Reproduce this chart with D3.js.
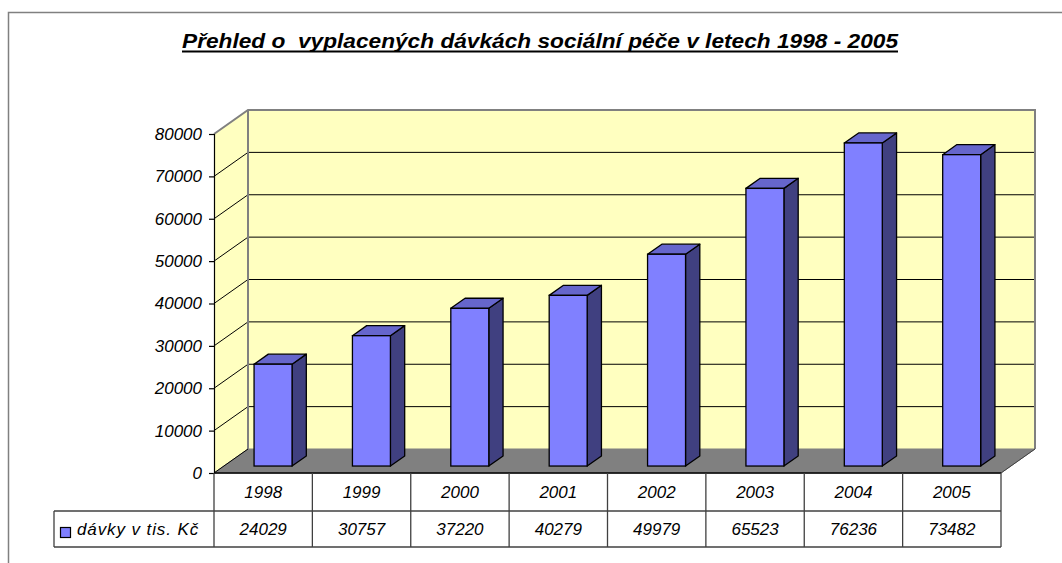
<!DOCTYPE html>
<html><head><meta charset="utf-8">
<script src="https://cdn.jsdelivr.net/npm/d3@7"></script>
<style>body{margin:0;background:#fff}svg{display:block}text{font-family:Arial,"Liberation Sans",sans-serif}</style>
</head><body><svg id="c" width="1062" height="563"></svg>
<script>
const years = ["1998","1999","2000","2001","2002","2003","2004","2005"];
const values = [24029,30757,37220,40279,49979,65523,76236,73482];
const yTicks = [0,10000,20000,30000,40000,50000,60000,70000,80000];
const seriesName = "dávky v tis. Kč";
const title = "Přehled o  vyplacených dávkách sociální péče v letech 1998 - 2005";

const svg = d3.select("#c");
const W = 1062, H = 563;
const x0 = 214, x1 = 1001, yBottom = 473, yTop = 134;
const DX = 34, DY = -24;           // depth of plot
const fFront = 0.29, fBack = 0.71; // bar depth position
const x = d3.scaleBand().domain(years).range([x0, x1]).padding(0);
const y = d3.scaleLinear().domain([0, 80000]).range([yBottom, yTop]);

// outer frame
svg.append("rect").attr("x",8.5).attr("y",12.5).attr("width",1060).attr("height",560)
  .attr("fill","none").attr("stroke","#808080").attr("stroke-width",1.5);

// title
svg.append("text").attr("x",540).attr("y",48).attr("text-anchor","middle")
  .attr("font-size",20).attr("font-weight","bold").attr("font-style","italic")
  .attr("textLength",716).attr("lengthAdjust","spacingAndGlyphs")
  .attr("xml:space","preserve").style("white-space","pre").text(title);
svg.append("line").attr("x1",182).attr("x2",898).attr("y1",51.5).attr("y2",51.5)
  .attr("stroke","#000").attr("stroke-width",2);

const wallFill = "#FFFFC0";
// side wall
svg.append("polygon")
  .attr("points",[[x0,y(80000)],[x0+DX,y(80000)+DY],[x0+DX,y(0)+DY],[x0,y(0)]].join(" "))
  .attr("fill",wallFill);
// back wall
svg.append("rect").attr("x",x0+DX).attr("y",y(80000)+DY)
  .attr("width",x1-x0).attr("height",y(0)-y(80000))
  .attr("fill",wallFill);

// gridlines
const gv = yTicks.filter(v => v>0 && v<80000);
svg.append("g").selectAll("line").data(gv).join("line")
  .attr("x1",x0+DX).attr("x2",x1+DX).attr("y1",d=>y(d)+DY).attr("y2",d=>y(d)+DY)
  .attr("stroke","#000").attr("stroke-width",1);
svg.append("g").selectAll("line").data(gv).join("line")
  .attr("x1",x0).attr("x2",x0+DX).attr("y1",d=>y(d)).attr("y2",d=>y(d)+DY)
  .attr("stroke","#000").attr("stroke-width",1);

// wall borders
svg.append("path")
  .attr("d",`M${x0},${y(80000)}L${x0+DX},${y(80000)+DY}L${x1+DX},${y(80000)+DY}L${x1+DX},${y(0)+DY}`)
  .attr("fill","none").attr("stroke","#808080").attr("stroke-width",2);
svg.append("line").attr("x1",x0+DX).attr("x2",x0+DX).attr("y1",y(80000)+DY).attr("y2",y(0)+DY)
  .attr("stroke","#808080").attr("stroke-width",2);

// floor
svg.append("polygon")
  .attr("points",[[x0,y(0)],[x1,y(0)],[x1+DX,y(0)+DY],[x0+DX,y(0)+DY]].join(" "))
  .attr("fill","#808080").attr("stroke","#808080").attr("stroke-width",1);
svg.append("line").attr("x1",x0).attr("y1",y(0)).attr("x2",x0+DX).attr("y2",y(0)+DY)
  .attr("stroke","#000").attr("stroke-width",1);
svg.append("line").attr("x1",x1).attr("y1",y(0)).attr("x2",x1+DX).attr("y2",y(0)+DY)
  .attr("stroke","#404040").attr("stroke-width",1);

// bars
const bw = x.bandwidth()*0.386;
const fdx = DX*fFront, fdy = DY*fFront, bdx = DX*(fBack-fFront), bdy = DY*(fBack-fFront);
const bars = svg.append("g").selectAll("g").data(years.map((k,i)=>({k,v:values[i]}))).join("g");
bars.each(function(d){
  const g = d3.select(this);
  const lx = x(d.k) + (x.bandwidth()-bw)/2 + fdx;
  const rx = lx + bw;
  const ty = y(d.v) + fdy, by = y(0) + fdy;
  g.append("polygon").attr("points",[[rx,ty],[rx+bdx,ty+bdy],[rx+bdx,by+bdy],[rx,by]].join(" "))
    .attr("fill","#404080").attr("stroke","#000").attr("stroke-width",1.3).attr("stroke-linejoin","round");
  g.append("polygon").attr("points",[[lx,ty],[lx+bdx,ty+bdy],[rx+bdx,ty+bdy],[rx,ty]].join(" "))
    .attr("fill","#6666CC").attr("stroke","#000").attr("stroke-width",1.3).attr("stroke-linejoin","round");
  g.append("rect").attr("x",lx).attr("y",ty).attr("width",bw).attr("height",by-ty)
    .attr("fill","#8080FF").attr("stroke","#000").attr("stroke-width",1.3);
});

// y axis
const ax = svg.append("g").attr("transform",`translate(${x0},0)`)
  .call(d3.axisLeft(y).tickValues(yTicks).tickSize(5).tickPadding(7).tickFormat(d3.format("d")));
ax.select(".domain").attr("stroke","#000").attr("stroke-width",1.2);
ax.selectAll(".tick line").attr("stroke","#000").attr("stroke-width",1.2);
ax.selectAll("text").attr("font-size",17).attr("font-style","italic")
  .attr("font-family","Arial, 'Liberation Sans', sans-serif").attr("fill","#000");

// data table
const r1 = 473, r2 = 511, r3 = 547, legX = 54;
const tc = "#404040";
const tg = svg.append("g").attr("stroke",tc).attr("stroke-width",1.3);
tg.append("line").attr("x1",x0).attr("x2",x1).attr("y1",r1).attr("y2",r1).attr("stroke","#000");
tg.append("line").attr("x1",legX).attr("x2",x1).attr("y1",r2).attr("y2",r2);
tg.append("line").attr("x1",legX).attr("x2",x1).attr("y1",r3).attr("y2",r3);
tg.append("line").attr("x1",legX).attr("x2",legX).attr("y1",r2).attr("y2",r3);
tg.selectAll("line.v").data(years.concat(["end"])).join("line").attr("class","v")
  .attr("x1",(d,i)=>x0+i*x.bandwidth()).attr("x2",(d,i)=>x0+i*x.bandwidth())
  .attr("y1",r1).attr("y2",r3);

svg.append("g").selectAll("text").data(years).join("text")
  .attr("x",d=>x(d)+x.bandwidth()/2).attr("y",(r1+r2)/2+6).attr("text-anchor","middle")
  .attr("font-size",17).attr("font-style","italic").text(d=>d);
svg.append("g").selectAll("text").data(values).join("text")
  .attr("x",(d,i)=>x(years[i])+x.bandwidth()/2).attr("y",(r2+r3)/2+6).attr("text-anchor","middle")
  .attr("font-size",17).attr("font-style","italic").text(d=>d);

// legend key
svg.append("rect").attr("x",60.5).attr("y",527.5).attr("width",10).attr("height",10)
  .attr("fill","#8080FF").attr("stroke","#000").attr("stroke-width",1.2);
svg.append("text").attr("x",77).attr("y",535).attr("font-size",17).attr("font-style","italic")
  .attr("letter-spacing",0.9).text(seriesName);
</script></body></html>
